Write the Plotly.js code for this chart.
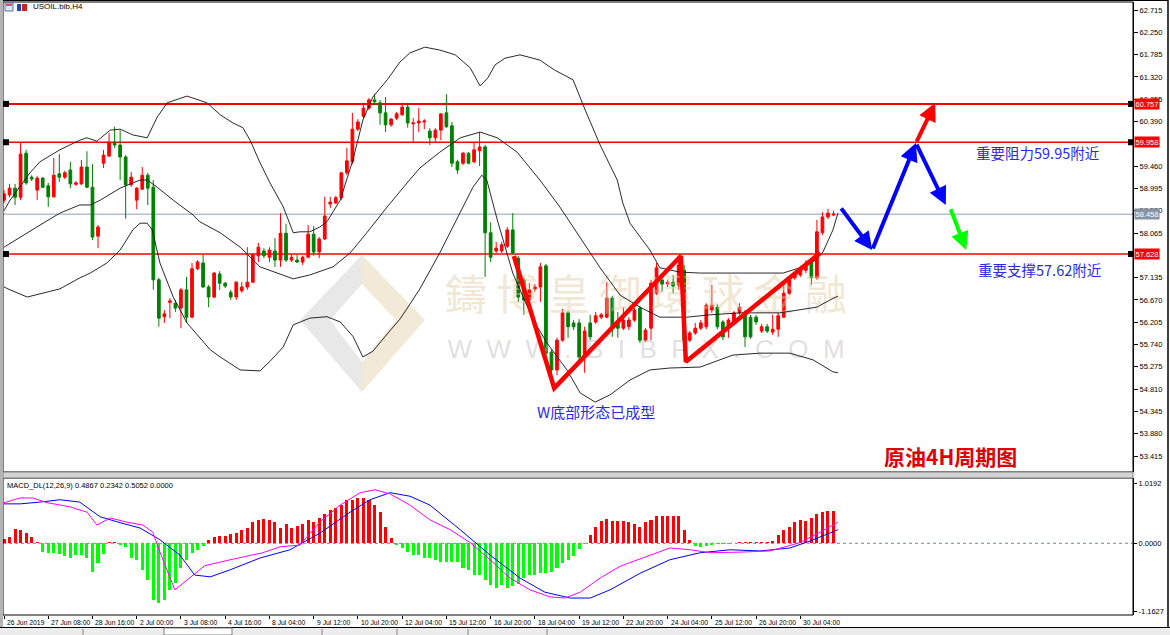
<!DOCTYPE html>
<html>
<head>
<meta charset="utf-8">
<script src="https://cdn.plot.ly/plotly-3.0.1.min.js"></script>
<style>
html,body{margin:0;padding:0;background:#fff;}
#chart{width:1170px;height:635px;}
</style>
</head>
<body>
<div id="chart"></div>
<script>
// ---------------- DATA ----------------
const timeLabels = ["26 Jun 2019","27 Jun 08:00","28 Jun 16:00","2 Jul 00:00","3 Jul 08:00","4 Jul 16:00","8 Jul 04:00","9 Jul 12:00","10 Jul 20:00","12 Jul 04:00","15 Jul 12:00","16 Jul 20:00","18 Jul 04:00","19 Jul 12:00","22 Jul 20:00","24 Jul 04:00","25 Jul 12:00","26 Jul 20:00","30 Jul 04:00"];
const labelBars = [0,8,16,24,32,40,48,56,64,72,80,88,96,104,112,120,128,136,144];

const openP = [58.75,58.86,59.00,58.81,59.73,59.23,58.96,59.21,59.05,58.82,59.30,59.23,59.38,59.08,59.09,59.44,59.02,58.00,59.52,59.67,
59.96,59.90,59.65,59.07,58.75,58.98,59.27,59.02,57.09,56.32,56.62,56.60,56.50,56.88,56.31,57.32,57.44,56.94,56.73,57.21,
57.02,56.83,56.73,56.86,56.94,57.04,57.59,57.69,57.56,57.69,57.50,58.06,57.50,57.50,57.46,57.56,58.04,57.67,57.94,58.67,
58.69,58.80,59.32,59.55,60.23,60.50,60.67,60.84,60.78,60.57,60.32,60.46,60.53,60.69,60.34,60.36,60.38,60.19,60.05,60.21,
60.57,60.30,59.55,59.52,59.73,59.55,59.78,59.86,58.07,57.69,57.69,57.79,58.13,57.54,57.09,56.67,56.90,56.94,57.38,55.58,
55.21,55.83,56.40,56.19,56.19,55.48,56.19,56.21,56.31,56.31,56.71,56.21,56.08,56.11,56.25,56.50,55.83,56.08,56.81,57.09,
57.00,57.04,56.98,57.29,55.83,55.98,56.08,56.11,56.46,56.52,56.21,56.11,56.19,56.40,56.42,56.31,56.31,56.02,56.11,56.00,
56.06,56.31,56.81,57.13,57.19,57.29,57.44,57.13,58.07,58.40,58.44];
const highP = [58.96,59.09,59.09,59.94,59.80,59.27,59.25,59.23,59.11,59.63,59.71,59.36,59.55,59.15,59.59,59.77,59.50,58.23,59.80,60.15,
60.28,60.21,59.69,59.34,59.02,59.44,59.32,59.17,57.13,56.46,56.71,56.67,56.92,57.15,57.44,57.50,57.61,56.98,57.25,57.27,
57.04,56.88,57.06,57.04,57.77,57.65,57.86,57.75,57.77,57.96,58.48,58.25,57.61,57.61,57.59,58.23,58.21,57.98,58.82,58.82,
58.84,59.34,59.84,60.57,60.44,60.78,60.88,60.96,60.84,60.90,60.46,60.59,60.78,60.78,60.46,60.67,60.44,60.25,60.25,60.55,
60.96,60.38,59.59,59.75,59.75,59.96,60.17,59.90,58.29,57.88,57.88,58.19,58.48,57.59,57.13,57.02,57.00,57.44,57.42,55.63,
55.88,56.48,56.44,56.25,56.27,56.11,56.36,56.42,56.40,57.04,56.75,56.42,56.52,56.31,56.50,56.54,56.08,57.09,57.44,57.13,
57.09,57.19,57.55,57.40,56.02,56.19,56.25,56.60,56.98,56.58,56.25,56.29,56.44,56.60,56.46,56.36,56.36,56.17,56.17,56.36,
56.40,56.96,57.13,57.27,57.38,57.50,57.48,58.34,58.50,58.57,58.53];
const lowP = [58.69,58.81,58.65,58.75,59.07,59.15,58.75,59.00,58.61,58.80,59.13,59.19,59.00,59.05,59.07,59.00,57.92,57.75,59.42,59.65,
59.84,59.17,58.36,59.03,58.56,58.96,58.65,56.88,56.11,56.19,56.29,56.42,56.08,56.19,56.29,57.29,56.92,56.52,56.71,56.88,
56.92,56.67,56.67,56.82,56.88,57.02,57.46,57.54,57.46,57.36,57.36,57.46,57.46,57.44,57.40,57.54,57.59,57.54,57.92,58.59,
58.67,58.75,59.27,59.50,60.19,60.46,60.63,60.73,60.32,60.17,60.28,60.42,60.51,60.26,59.96,60.17,60.23,59.90,59.97,60.00,
60.26,59.44,59.30,59.48,59.50,59.52,59.46,57.15,57.46,57.65,57.65,57.75,57.61,56.63,56.36,56.63,56.84,56.63,55.50,55.04,
55.10,55.80,55.88,56.04,55.42,55.15,55.83,56.17,56.27,56.29,55.90,55.88,56.04,56.04,56.21,55.77,55.79,55.83,56.77,56.84,
56.94,56.81,56.88,55.73,55.79,55.94,56.04,56.06,56.40,56.06,55.83,55.88,56.15,56.36,55.69,55.86,56.15,55.98,55.98,55.94,
55.90,56.29,56.77,57.09,57.15,57.23,56.98,57.09,58.02,58.36,58.42];
const closeP = [58.88,59.00,58.81,59.71,59.11,59.19,59.21,59.02,58.82,59.27,59.23,59.32,59.09,59.11,59.44,59.02,57.98,58.19,59.69,59.96,
59.90,59.65,59.07,59.23,59.00,59.27,59.00,57.09,56.29,56.38,56.65,56.50,56.88,56.31,57.32,57.46,56.94,56.73,57.23,57.02,
56.96,56.73,57.04,56.94,57.04,57.61,57.77,57.59,57.71,57.50,58.06,57.50,57.56,57.46,57.56,58.04,57.67,57.94,58.42,58.71,
58.80,59.32,59.57,60.23,60.38,60.67,60.84,60.80,60.57,60.32,60.44,60.55,60.69,60.36,60.36,60.40,60.40,60.05,60.21,60.55,
60.28,59.52,59.38,59.73,59.52,59.80,59.86,58.07,57.56,57.75,57.82,58.13,57.65,56.73,56.67,56.88,56.94,57.36,55.56,55.21,
55.83,56.40,56.11,56.11,55.48,56.02,55.90,56.34,56.36,56.71,56.11,56.08,56.25,56.25,56.46,55.83,56.04,57.02,57.34,57.00,
57.04,56.96,57.40,55.83,55.98,56.08,56.19,56.56,56.56,56.11,55.90,56.25,56.40,56.52,55.90,55.90,56.21,56.11,56.02,56.06,
56.34,56.81,57.09,57.23,57.32,57.44,57.13,58.09,58.40,58.48,58.458];

// Bollinger Bands (bar position, price)
const bbUpperX = [0,1.1,4.7,6.5,10.1,13.7,15.0,16.8,19.2,21.0,23.3,25.9,27.7,29.5,33.1,36.7,39.1,41.4,43.2,44.5,46.3,48.1,50.5,52.3,53.5,55.3,57.1,58.4,60.8,63.1,64.9,66.7,69.3,71.6,73.4,76.1,78.8,81.6,84.3,86.1,87.5,88.8,90.6,93.3,96.9,99.6,102.9,105.1,107.8,110.9,111.9,113.2,116.8,118.6,122.2,125.9,131.8,140.9,143.9,146.3,148.1,149.9,150.8];
const bbUpperY = [58.53,58.75,59.32,59.55,59.80,60.00,60.05,59.98,60.21,60.23,60.11,60.05,60.48,60.78,60.92,60.78,60.53,60.36,60.26,60.00,59.53,59.11,58.61,58.07,58.09,58.09,58.19,58.30,58.75,59.59,60.42,60.90,61.26,61.63,61.82,61.94,61.88,61.78,61.51,61.13,61.30,61.57,61.71,61.78,61.67,61.46,61.26,60.63,59.90,59.17,58.69,58.27,57.71,57.34,57.25,57.23,57.23,57.23,57.34,57.46,57.67,58.13,58.48];
const bbMiddleX = [0,2.9,6.5,10.1,13.7,15.6,17.4,21.0,24.6,25.9,27.7,30.6,34.2,35.4,39.1,42.7,46.3,52.3,55.3,59.5,62.6,65.6,69.3,72.9,75.2,78.8,82.5,86.1,89.2,92.8,96.9,100.5,104.2,107.8,111.4,115.0,118.6,123.5,127.7,133.1,140.3,143.9,147.0,149.4,150.8];
const bbMiddleY = [57.77,57.98,58.23,58.48,58.65,58.65,58.75,59.00,59.17,59.17,59.02,58.75,58.44,58.30,58.07,57.77,57.36,57.11,57.19,57.36,57.65,58.07,58.61,59.11,59.42,59.75,60.05,60.17,60.05,59.75,59.17,58.61,57.98,57.34,56.77,56.52,56.31,56.31,56.36,56.40,56.40,56.46,56.52,56.67,56.75];
const bbLowerX = [0,1.1,4.2,7.1,10.1,13.7,15.6,18.6,21.0,23.3,24.6,25.9,26.8,28.2,30.6,33.1,35.4,37.3,39.1,42.7,46.3,48.1,50.5,52.3,55.3,58.4,60.8,63.1,64.9,66.7,69.3,71.6,73.4,75.2,78.8,82.5,84.8,86.4,87.3,89.2,92.0,95.7,98.2,101.8,104.2,106.9,109.6,113.2,116.8,120.4,125.9,131.8,136.7,142.1,146.3,149.9,150.8];
const bbLowerY = [56.94,56.88,56.73,56.81,56.90,57.13,57.23,57.44,57.71,58.13,58.27,58.27,58.13,57.44,56.73,56.19,55.88,55.63,55.48,55.21,55.19,55.39,55.69,56.15,56.29,56.32,56.21,55.91,55.48,55.60,55.96,56.27,56.58,56.90,57.65,58.48,59.02,59.27,59.17,58.34,57.23,56.25,55.77,55.21,54.73,54.54,54.69,55.00,55.21,55.25,55.27,55.52,55.56,55.56,55.42,55.17,55.15];

// MACD_DL(12,26,9)
const macdHist = [0.07,0.11,0.24,0.23,0.18,0.11,0.03,-0.15,-0.17,-0.17,-0.18,-0.21,-0.25,-0.20,-0.20,-0.25,-0.49,-0.33,-0.18,0.02,
0.03,-0.03,-0.06,-0.25,-0.28,-0.45,-0.62,-0.96,-1.01,-0.96,-0.79,-0.67,-0.42,-0.28,-0.17,-0.11,-0.05,0.06,0.11,0.12,
0.12,0.16,0.18,0.23,0.26,0.36,0.40,0.41,0.40,0.36,0.26,0.33,0.26,0.29,0.33,0.40,0.36,0.43,0.50,0.57,
0.60,0.65,0.74,0.74,0.77,0.77,0.74,0.65,0.53,0.28,0.09,-0.03,-0.08,-0.15,-0.20,-0.20,-0.25,-0.25,-0.28,-0.32,
-0.32,-0.32,-0.32,-0.42,-0.45,-0.54,-0.54,-0.62,-0.71,-0.76,-0.71,-0.76,-0.73,-0.69,-0.59,-0.54,-0.54,-0.50,-0.50,-0.49,
-0.42,-0.33,-0.28,-0.22,-0.10,-0.02,0.14,0.28,0.38,0.41,0.38,0.38,0.38,0.36,0.33,0.28,0.36,0.40,0.46,0.46,
0.46,0.46,0.46,0.23,0.06,-0.05,-0.06,-0.05,-0.03,-0.02,-0.02,-0.01,0.01,0.02,0.03,0.02,0.02,0.03,0.03,0.04,
0.14,0.23,0.28,0.36,0.40,0.38,0.43,0.50,0.53,0.55,0.55];
const macdBlueX = [0,2.9,6.5,10.1,13.7,17.4,21.0,24.6,28.2,31.8,34.5,37.3,40.9,46.3,51.7,57.1,62.6,66.2,69.8,73.4,77.0,82.5,87.9,93.3,97.8,102.4,106.0,109.6,115.0,120.4,125.9,131.3,136.7,142.1,145.8,150.8];
const macdBlueY = [0.67,0.67,0.70,0.74,0.70,0.45,0.35,0.26,0.06,-0.20,-0.54,-0.57,-0.45,-0.25,-0.11,0.17,0.53,0.74,0.86,0.80,0.65,0.23,-0.20,-0.59,-0.83,-0.93,-0.93,-0.79,-0.51,-0.28,-0.16,-0.11,-0.13,-0.08,0.04,0.23];
const macdMagentaX = [0,2.9,5.2,7.8,11.9,15.0,16.8,19.2,22.2,25.1,26.9,28.2,30.9,33.6,36.3,40.9,46.8,49.9,53.5,57.1,60.8,64.4,67.1,69.8,73.4,77.0,80.7,84.3,87.9,91.5,95.1,98.7,101.4,104.2,107.8,111.4,116.8,120.4,124.1,127.7,133.1,138.5,143.9,147.6,150.8];
const macdMagentaY = [0.69,0.77,0.77,0.69,0.62,0.53,0.31,0.43,0.36,0.31,0.19,-0.15,-0.79,-0.59,-0.38,-0.28,-0.16,-0.06,-0.03,0.36,0.65,0.86,0.91,0.84,0.65,0.40,0.23,0.01,-0.28,-0.59,-0.79,-0.91,-0.93,-0.83,-0.59,-0.39,-0.20,-0.08,-0.11,-0.16,-0.15,-0.13,0.01,0.19,0.36];

// horizontal levels
const resistLevels = [60.757, 59.958, 57.628];
const bidPrice = 58.458;
// grid prices shown on the scale (59.925 and 57.600 are hidden behind level labels)
const priceTicks = [53.415,53.880,54.345,54.810,55.275,55.740,56.205,56.670,57.135,58.065,58.530,58.995,59.460,60.390,60.855,61.320,61.785,62.250,62.715];
const macdTicks = [1.0192, 0.0, -1.1627];

// hand drawn pattern / forecast (bar position, price)
const wPatternX = [92.2, 99.5, 122.4, 123.3, 147.6];
const wPatternY = [57.585, 54.83, 57.585, 55.38, 57.65];
const blueArrowX = [151.2, 157.0, 164.9, 170.3];
const blueArrowY = [58.61, 57.71, 59.94, 58.65];
const redArrowX = [164.9, 168.4];
const redArrowY = [59.94, 60.78];
const greenArrowX = [171.1, 174.0];
const greenArrowY = [58.59, 57.71];

// ---------------- LAYOUT HELPERS ----------------
const W = 1170, H = 635, ML = 3, MR = 37, MT = 2, MB = 20;
const PW = W - ML - MR, PH = H - MT - MB;
const xp = px => (px - ML) / PW;
const yp = py => (H - MB - py) / PH;
const mainDom = [yp(472), 1];
const macdDom = [0, yp(478)];
const bars = openP.map((_, i) => i);
const barPx = 5.53;
const xRange = [-(4 - ML) / barPx, (-(4 - ML) / barPx) + PW / barPx];
const yMainRange = [62.9235 - 472 / 47.96, 62.9235 - 2 / 47.96];
const yMacdRange = [(543.3 - 615) * 0.01699, (543.3 - 478) * 0.01699];

const fontAx = {family: 'Liberation Sans, Arial, sans-serif', size: 7.5, color: '#000'};
const fontTime = {family: 'Liberation Sans, Arial, sans-serif', size: 6.8, color: '#000'};

const traces = [];
// watermark (below everything)
traces.push({type:'scatter', mode:'text', x:[116.1], y:[56.67], text:['鑄 博 皇 御 環 球 金 融'],
  textfont:{family:'Noto Sans CJK TC', size:42, color:'rgba(226,200,160,0.45)'}, hoverinfo:'skip', showlegend:false, xaxis:'x', yaxis:'y'});
traces.push({type:'scatter', mode:'text', x:[116.1], y:[55.60], text:['W  W  W  .  B  I  B  F  X  .  C  O  M'],
  textfont:{family:'Liberation Sans', size:26, color:'rgba(185,185,185,0.45)'}, hoverinfo:'skip', showlegend:false, xaxis:'x', yaxis:'y'});
// Bollinger
[[bbUpperX,bbUpperY],[bbMiddleX,bbMiddleY],[bbLowerX,bbLowerY]].forEach(([x,y]) => {
  traces.push({type:'scatter', mode:'lines', x:x, y:y, line:{color:'#111', width:0.9}, hoverinfo:'skip', showlegend:false, xaxis:'x', yaxis:'y'});
});
// candles
traces.push({type:'candlestick', x:bars, open:openP, high:highP, low:lowP, close:closeP,
  increasing:{line:{color:'#ff0000', width:1}, fillcolor:'#ff0000'},
  decreasing:{line:{color:'#008000', width:1}, fillcolor:'#008000'},
  whiskerwidth:0, showlegend:false, hoverinfo:'skip', xaxis:'x', yaxis:'y'});
// W pattern
traces.push({type:'scatter', mode:'lines', x:wPatternX, y:wPatternY, line:{color:'#ff0000', width:4.5}, hoverinfo:'skip', showlegend:false, xaxis:'x', yaxis:'y'});
// MACD histogram
traces.push({type:'bar', x:bars, y:macdHist, width:0.55,
  marker:{color: macdHist.map(v => v >= 0 ? '#ff0000' : '#00ff00'), line:{width:0}},
  hoverinfo:'skip', showlegend:false, xaxis:'x', yaxis:'y2'});
traces.push({type:'scatter', mode:'lines', x:macdBlueX, y:macdBlueY, line:{color:'#0000ff', width:1}, hoverinfo:'skip', showlegend:false, xaxis:'x', yaxis:'y2'});
traces.push({type:'scatter', mode:'lines', x:macdMagentaX, y:macdMagentaY, line:{color:'#ff00ff', width:1}, hoverinfo:'skip', showlegend:false, xaxis:'x', yaxis:'y2'});

// ---------------- SHAPES ----------------
const shapes = [];
const pathPx = pts => 'M ' + pts.map(p => xp(p[0]) + ',' + yp(p[1])).join(' L ') + ' Z';
// logo watermark
shapes.push({type:'path', xref:'paper', yref:'paper', layer:'below', path: pathPx([[362,255],[425,320],[362,392],[362,362],[396,320],[362,284]]), fillcolor:'rgba(232,212,176,0.5)', line:{width:0}});
shapes.push({type:'path', xref:'paper', yref:'paper', layer:'below', path: pathPx([[362,255],[300,320],[362,392],[362,362],[330,320],[362,284]]), fillcolor:'rgba(205,205,205,0.45)', line:{width:0}});
// levels
resistLevels.forEach((lv, i) => {
  shapes.push({type:'line', xref:'paper', yref:'y', x0:0, x1:1, y0:lv, y1:lv, line:{color:'#ff0000', width: i===0 ? 2 : 1.6}, layer:'below'});
  [xp(6), xp(1131)].forEach(xx => shapes.push({type:'rect', xref:'paper', yref:'y', xsizemode:'pixel', ysizemode:'pixel', xanchor:xx, yanchor:lv, x0:-3, x1:3, y0:-3, y1:3, fillcolor:'#000', line:{width:0}}));
});
shapes.push({type:'line', xref:'paper', yref:'y', x0:0, x1:1, y0:bidPrice, y1:bidPrice, line:{color:'#b3bfcc', width:1.5}, layer:'below'});
// MACD zero line
shapes.push({type:'line', xref:'paper', yref:'y2', x0:0, x1:1, y0:0, y1:0, line:{color:'#778899', width:1, dash:'dot'}, layer:'below'});
// frames
shapes.push({type:'rect', xref:'paper', yref:'paper', x0:0, x1:1, y0:mainDom[0], y1:1, line:{color:'#000', width:1}});
shapes.push({type:'rect', xref:'paper', yref:'paper', x0:0, x1:1, y0:0, y1:macdDom[1], line:{color:'#000', width:1}});
shapes.push({type:'rect', xref:'paper', yref:'paper', x0:0, x1:1, y0:macdDom[1], y1:mainDom[0], fillcolor:'#d4d4d4', line:{color:'#808080', width:1}});
// left gray strip
shapes.push({type:'rect', xref:'paper', yref:'paper', x0:xp(0), x1:xp(3), y0:yp(635), y1:yp(0), fillcolor:'#b4b4b4', line:{width:0}});
// right border
shapes.push({type:'line', xref:'paper', yref:'paper', x0:xp(1168), x1:xp(1168), y0:yp(627), y1:yp(0), line:{color:'#000', width:1.5}});
shapes.push({type:'line', xref:'paper', yref:'paper', x0:xp(3), x1:xp(1168), y0:yp(0.5), y1:yp(0.5), line:{color:'#000', width:1}});
// bottom tab bar
shapes.push({type:'rect', xref:'paper', yref:'paper', x0:xp(0), x1:xp(1170), y0:yp(635), y1:yp(627), fillcolor:'#ececec', line:{width:0}});
shapes.push({type:'line', xref:'paper', yref:'paper', x0:xp(0), x1:xp(1170), y0:yp(627.5), y1:yp(627.5), line:{color:'#000', width:1}});
shapes.push({type:'rect', xref:'paper', yref:'paper', x0:xp(164), x1:xp(232), y0:yp(635), y1:yp(628), fillcolor:'#ffffff', line:{color:'#808080', width:1}});
[83, 322, 397, 468, 547].forEach(px => shapes.push({type:'line', xref:'paper', yref:'paper', x0:xp(px), x1:xp(px), y0:yp(635), y1:yp(629), line:{color:'#808080', width:1}}));
// header icons
shapes.push({type:'rect', xref:'paper', yref:'paper', x0:xp(5), x1:xp(13), y0:yp(11), y1:yp(3), fillcolor:'#dfe6f5', line:{color:'#5570a8', width:1}});
shapes.push({type:'rect', xref:'paper', yref:'paper', x0:xp(6), x1:xp(12), y0:yp(6), y1:yp(4), fillcolor:'#e05050', line:{width:0}});
shapes.push({type:'rect', xref:'paper', yref:'paper', x0:xp(17), x1:xp(21), y0:yp(11), y1:yp(4), fillcolor:'#2040d0', line:{width:0}});
shapes.push({type:'rect', xref:'paper', yref:'paper', x0:xp(22), x1:xp(27), y0:yp(11), y1:yp(4), fillcolor:'#d02020', line:{width:0}});

// ---------------- ANNOTATIONS ----------------
const ann = [];
// price labels on the axis
resistLevels.forEach(lv => ann.push({xref:'paper', yref:'y', x:1, y:lv, xanchor:'left', yanchor:'middle', xshift:1, text:lv.toFixed(3), showarrow:false, bgcolor:'#ff0000', font:{family:fontAx.family, size:7.5, color:'#fff'}, borderpad:0.5}));
ann.push({xref:'paper', yref:'y', x:1, y:bidPrice, xanchor:'left', yanchor:'middle', xshift:1, text:bidPrice.toFixed(3), showarrow:false, bgcolor:'#8894a4', font:{family:fontAx.family, size:7.5, color:'#fff'}, borderpad:0.5});
// time labels
timeLabels.forEach((t, i) => ann.push({xref:'x', yref:'paper', x:labelBars[i], y:yp(622), xanchor:'left', yanchor:'middle', xshift:1, text:t, showarrow:false, font:fontTime}));
// header texts
ann.push({xref:'paper', yref:'paper', x:xp(31), y:yp(7), xanchor:'left', yanchor:'middle', text:'USOIL.bib,H4', showarrow:false, font:{family:fontAx.family, size:8, color:'#000'}});
ann.push({xref:'paper', yref:'paper', x:xp(5), y:yp(485), xanchor:'left', yanchor:'middle', text:'MACD_DL(12,26,9) 0.4867 0.2342 0.5052 0.0000', showarrow:false, font:{family:fontAx.family, size:7.5, color:'#000'}});
// forecast arrows
const arrow = (x0,y0,x1,y1,c) => ({xref:'x', yref:'y', axref:'x', ayref:'y', x:x1, y:y1, ax:x0, ay:y0, text:'', showarrow:true, arrowhead:2, arrowsize:0.9, arrowwidth:4, arrowcolor:c, standoff:0, startstandoff:0});
for (let i = 0; i < blueArrowX.length - 1; i++) ann.push(arrow(blueArrowX[i], blueArrowY[i], blueArrowX[i+1], blueArrowY[i+1], '#0000ff'));
ann.push(arrow(redArrowX[0], redArrowY[0], redArrowX[1], redArrowY[1], '#ff0000'));
ann.push(arrow(greenArrowX[0], greenArrowY[0], greenArrowX[1], greenArrowY[1], '#00ff00'));
// comment texts
const cjk = 'Noto Sans CJK SC, sans-serif';
ann.push({xref:'x', yref:'y', x:186.8, y:59.75, text:'重要阻力59.95附近', showarrow:false, font:{family:cjk, size:14.5, color:'#2a2ae6'}});
ann.push({xref:'x', yref:'y', x:187.3, y:57.30, text:'重要支撑57.62附近', showarrow:false, font:{family:cjk, size:14.5, color:'#2a2ae6'}});
ann.push({xref:'x', yref:'y', x:107.1, y:54.35, text:'W底部形态已成型', showarrow:false, font:{family:cjk, size:15, color:'#2a2ae6'}});
ann.push({xref:'x', yref:'y', x:171.1, y:53.41, text:'<b>原油4H周期图</b>', showarrow:false, font:{family:cjk, size:21, color:'#e00000'}});

const layout = {
  width: W, height: H,
  margin: {l: ML, r: MR, t: MT, b: MB, pad: 0},
  paper_bgcolor: '#ffffff', plot_bgcolor: '#ffffff',
  showlegend: false, dragmode: false, bargap: 0,
  xaxis: {anchor:'y2', range:xRange, showgrid:false, zeroline:false, showline:false,
    tickvals: labelBars, ticks:'outside', ticklen:3, tickcolor:'#000', tickwidth:1, showticklabels:false,
    rangeslider:{visible:false}, fixedrange:true},
  yaxis: {domain: mainDom, range: yMainRange, side:'right', anchor:'x', showgrid:false, zeroline:false,
    showline:true, linecolor:'#000', linewidth:1,
    tickvals: priceTicks, ticktext: priceTicks.map(v => v.toFixed(3)), ticks:'outside', ticklen:4, tickcolor:'#000',
    tickfont: fontAx, fixedrange:true},
  yaxis2: {domain: macdDom, range: yMacdRange, side:'right', anchor:'x', showgrid:false, zeroline:false,
    showline:true, linecolor:'#000', linewidth:1,
    tickvals: macdTicks, ticktext: ['1.0192','0.0000','-1.1627'], ticks:'outside', ticklen:3, tickcolor:'#000',
    tickfont: fontAx, fixedrange:true},
  shapes: shapes,
  annotations: ann
};

Plotly.newPlot('chart', traces, layout, {staticPlot:true, displayModeBar:false});
</script>
</body>
</html>
